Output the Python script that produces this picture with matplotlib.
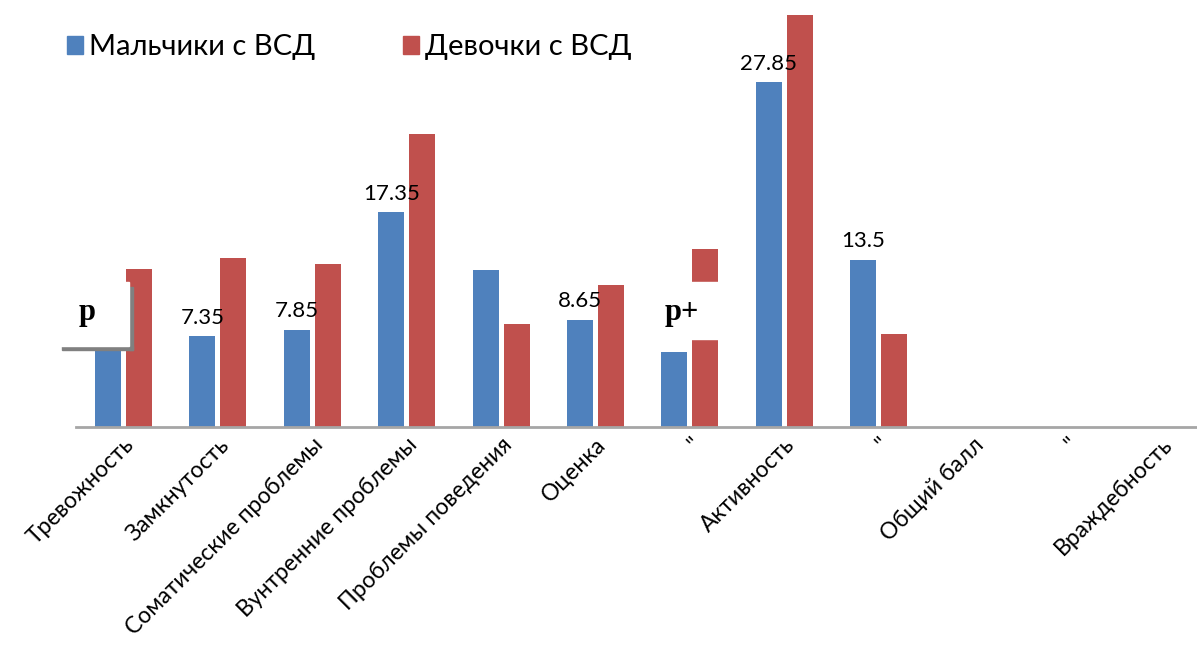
import numpy as np
import matplotlib.pyplot as plt
from matplotlib.patches import Rectangle, Patch

plt.rcParams['font.family'] = ['Lato', 'DejaVu Sans']

# категории по оси X
categories = ['Тревожность', 'Замкнутость', 'Соматические проблемы',
              'Вунтренние проблемы', 'Проблемы поведения', 'Оценка', '"',
              'Активность', '"', 'Общий балл', '"', 'Враждебность']
# значения (последние три категории пустые)
boys = [9.0, 7.35, 7.85, 17.35, 12.67, 8.65, 6.05, 27.85, 13.5, np.nan, np.nan, np.nan]
girls = [12.75, 13.64, 13.16, 23.65, 8.31, 11.46, 14.37, 33.25, 7.5, np.nan, np.nan, np.nan]
# подписи данных только у части столбцов
boys_labels = ['', '7.35', '7.85', '17.35', '', '8.65', '', '27.85', '13.5', '', '', '']

W, H = 1197, 646
fig = plt.figure(figsize=(W / 100, H / 100), dpi=100)

x0 = 76.3      # левый край оси, px
step = 94.4    # ширина категории, px
base = 427     # нулевая линия, px
ax = fig.add_axes([x0 / W, (H - base) / H, 1 - x0 / W, base / H])

x = np.arange(len(categories))
bw = 0.275
off = 0.164
b1 = ax.bar(x - off, boys, bw, color='#4f81bd', label='Мальчики с ВСД')
b2 = ax.bar(x + off, girls, bw, color='#c0504d', label='Девочки с ВСД')

for rect, lab in zip(b1, boys_labels):
    if lab:
        ax.annotate(lab, (rect.get_x() + rect.get_width() / 2, rect.get_height()),
                    xytext=(0, 6), textcoords='offset points',
                    ha='center', va='bottom', fontsize=16)

ax.set_xlim(-0.5, -0.5 + (W - x0) / step)
ax.set_ylim(0, base / 12.39)

ax.set_xticks(x)
ax.set_xticklabels(categories, rotation=45, ha='right', va='top',
                   rotation_mode='anchor', fontsize=16.5)
ax.tick_params(axis='x', length=0, pad=5)
ax.set_yticks([])
for s in ['top', 'right', 'left']:
    ax.spines[s].set_visible(False)
ax.spines['bottom'].set_color('#a6a6a6')
ax.spines['bottom'].set_linewidth(2)

# легенда
handles = [Patch(color='#4f81bd'), Patch(color='#c0504d')]
fig.legend(handles, ['Мальчики с ВСД', 'Девочки с ВСД'], ncol=2,
           loc='upper left', bbox_to_anchor=(41 / W, 1 - 8 / H), frameon=False,
           fontsize=21, handlelength=0.55, handleheight=0.55, handletextpad=0.2,
           columnspacing=3.0)

# надписи "p" и "p+" в белых рамках поверх столбцов
def px(xp, yp):
    return xp / W, 1 - yp / H

# тень рамки "p"
fig.patches.append(Rectangle(px(62, 350), 71 / W, 4 / H, transform=fig.transFigure,
                             color='#808080', zorder=5))
fig.patches.append(Rectangle(px(129, 350), 4 / W, 63 / H, transform=fig.transFigure,
                             color='#808080', zorder=5))
fig.patches.append(Rectangle(px(58, 346), 71 / W, 64 / H, transform=fig.transFigure,
                             color='white', zorder=6))
fig.text(79 / W, 1 - 320 / H, 'p', family='Liberation Serif', fontweight='bold',
         fontsize=22, zorder=7)

fig.patches.append(Rectangle(px(645, 339), 80 / W, 57 / H, transform=fig.transFigure,
                             color='white', zorder=6))
fig.text(665 / W, 1 - 320 / H, 'p+', family='Liberation Serif', fontweight='bold',
         fontsize=22, zorder=7)

fig.savefig('out.png', dpi=100)
